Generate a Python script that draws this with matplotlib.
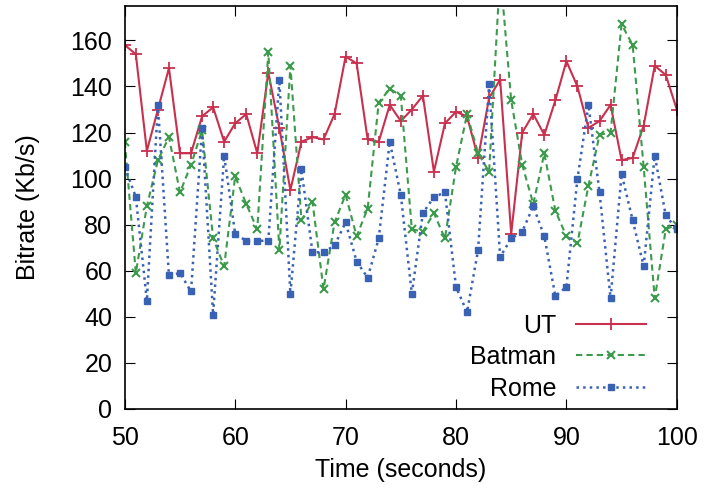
import numpy as np
import matplotlib.pyplot as plt

plt.rcParams['font.family'] = ['Liberation Sans', 'DejaVu Sans']

time = np.arange(50, 101)

ut = [158, 154, 112, 130, 148, 111, 111, 127, 131, 116, 124, 128, 111, 146, 122, 95,
      116, 118, 117, 128, 153, 150, 117, 116, 132, 125, 130, 136, 103, 124, 129, 127,
      109, 135, 143, 76, 120, 128, 119, 134, 151, 140, 122, 125, 132, 108, 109, 123,
      149, 145, 130]
batman = [116, 59, 88, 108, 118, 94, 106, 121, 74, 62, 101, 89, 78, 155, 69, 149,
          82, 90, 52, 81, 93, 75, 87, 133, 139, 136, 78, 77, 85, 74, 105, 128,
          111, 103, 190, 134, 106, 89, 111, 86, 75, 72, 97, 119, 120, 167, 158, 105,
          48, 78, 80]
rome = [105, 92, 47, 132, 58, 59, 51, 122, 41, 110, 76, 73, 73, 73, 143, 50,
        104, 68, 68, 71, 81, 64, 57, 74, 116, 93, 50, 85, 92, 94, 53, 42,
        69, 141, 66, 74, 77, 88, 75, 49, 53, 100, 132, 94, 48, 102, 82, 62,
        110, 84, 78]

fig = plt.figure(figsize=(7.05, 4.88), dpi=100)
ax = fig.add_axes([0.177, 0.162, 0.783, 0.826])

ax.plot(time, ut, color='#c8304e', linestyle='-', linewidth=1.5,
        marker='+', markersize=8, markeredgewidth=1.3, label='UT')
ax.plot(time, batman, color='#3c9a4c', linestyle='--', linewidth=1.5, dashes=(3, 2),
        marker='x', markersize=6, markeredgewidth=1.5, label='Batman')
ax.plot(time, rome, color='#3a62b4', linestyle=':', linewidth=1.8,
        marker='s', markersize=4.5, label='Rome')

ax.set_xlim(50, 100)
ax.set_ylim(0, 175)
ax.set_xticks(range(50, 101, 10))
ax.set_yticks(range(0, 161, 20))
ax.tick_params(direction='in', top=True, right=True, length=7, labelsize=18)
ax.tick_params(axis='x', pad=12)
ax.tick_params(axis='y', pad=9)
for s in ax.spines.values():
    s.set_linewidth(1.2)

ax.set_xlabel('Time (seconds)', fontsize=18, labelpad=6)
ax.set_ylabel('Bitrate (Kb/s)', fontsize=18, labelpad=22)

ax.legend(loc='lower right', bbox_to_anchor=(0.985, -0.035), frameon=False,
          markerfirst=False, fontsize=18, handlelength=2.8,
          labelspacing=0.3, handletextpad=0.8)

fig.savefig('out.png', dpi=100)
